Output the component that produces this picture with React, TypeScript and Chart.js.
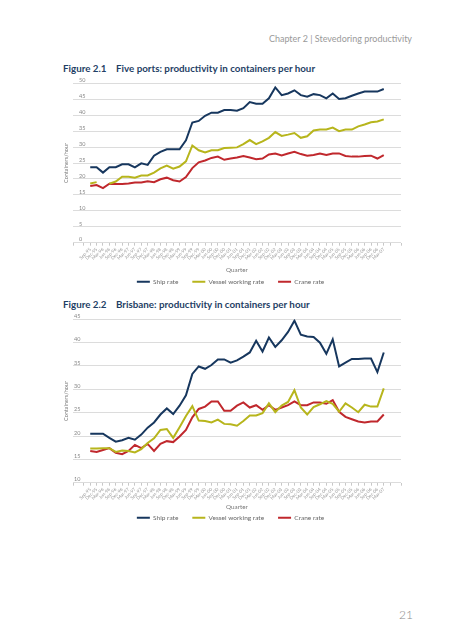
import React, { useEffect, useRef } from 'react';
import { Chart, registerables } from 'chart.js';

Chart.register(...registerables);

// Quarter labels (x axis)
const quarters: string[] = [
  'Sep-95', 'Dec-95', 'Mar-96', 'Jun-96', 'Sep-96', 'Dec-96', 'Mar-97', 'Jun-97',
  'Sep-97', 'Dec-97', 'Mar-98', 'Jun-98', 'Sep-98', 'Dec-98', 'Mar-99', 'Jun-99',
  'Sep-99', 'Dec-99', 'Mar-00', 'Jun-00', 'Sep-00', 'Dec-00', 'Mar-01', 'Jun-01',
  'Sep-01', 'Dec-01', 'Mar-02', 'Jun-02', 'Sep-02', 'Dec-02', 'Mar-03', 'Jun-03',
  'Sep-03', 'Dec-03', 'Mar-04', 'Jun-04', 'Sep-04', 'Dec-04', 'Mar-05', 'Jun-05',
  'Sep-05', 'Dec-05', 'Mar-06', 'Jun-06', 'Sep-06', 'Dec-06', 'Mar-07',
];

// Figure 2.1 — Five ports
const fiveShip: (number | null)[] = [
  23.7, 23.7, 22.0, 23.7, 23.7, 24.6, 24.6, 23.6, 24.9, 24.4,
  27.3, 28.5, 29.3, 29.3, 29.3, 32.1, 37.7, 38.2, 39.8, 40.8,
  40.8, 41.6, 41.6, 41.4, 42.2, 44.1, 43.6, 43.6, 45.3, 48.7,
  46.3, 46.8, 47.8, 46.3, 45.8, 46.6, 46.3, 45.3, 46.8, 45.1,
  45.3, 46.1, 46.8, 47.4, 47.4, 47.4, 48.2,
];
const fiveVessel: (number | null)[] = [
  18.6, 19.0, null, 18.5, 19.2, 20.7, 20.7, 20.4, 21.1, 21.1,
  22.0, 23.3, 24.2, 23.2, 23.9, 25.5, 30.5, 29.0, 28.3, 29.0,
  29.0, 29.7, 29.8, 29.9, 30.9, 32.2, 30.9, 31.8, 32.9, 34.7,
  33.5, 33.9, 34.4, 32.9, 33.4, 35.2, 35.5, 35.5, 36.1, 35.0,
  35.5, 35.5, 36.5, 37.1, 37.8, 38.0, 38.7,
];
const fiveCrane: (number | null)[] = [
  17.8, 18.1, 17.1, 18.5, 18.4, 18.4, 18.6, 18.9, 18.9, 19.3,
  19.0, 19.9, 20.4, 19.6, 19.2, 20.6, 23.4, 25.2, 25.8, 26.6,
  27.0, 26.0, 26.4, 26.7, 27.2, 26.7, 26.2, 26.4, 27.7, 28.0,
  27.4, 28.0, 28.5, 27.8, 27.3, 27.5, 28.0, 27.5, 28.0, 28.0,
  27.2, 27.0, 27.0, 27.2, 27.3, 26.4, 27.5,
];

// Figure 2.2 — Brisbane
const brisShip: (number | null)[] = [
  20.5, 20.5, 20.5, 19.6, 18.8, 19.1, 19.6, 19.2, 20.3, 21.8,
  22.9, 24.6, 25.9, 24.7, 26.5, 28.7, 33.3, 34.9, 34.4, 35.2,
  36.4, 36.4, 35.7, 36.2, 37.0, 37.9, 40.4, 38.1, 41.1, 39.1,
  40.5, 42.3, 44.7, 41.7, 41.3, 41.2, 40.0, 37.6, 40.7, 34.9,
  35.7, 36.5, 36.5, 36.6, 36.6, 33.7, 37.9,
];
const brisVessel: (number | null)[] = [
  17.3, 17.3, 17.4, 17.4, 16.6, 16.9, 16.8, 16.5, 17.2, 18.5,
  19.5, 21.3, 21.5, 19.6, 21.9, 24.3, 26.4, 23.3, 23.2, 22.9,
  23.5, 22.6, 22.5, 22.2, 23.2, 24.4, 24.4, 24.9, 27.0, 25.1,
  26.5, 27.3, 29.8, 26.1, 24.6, 26.2, 26.8, 27.5, 26.9, 25.2,
  27.0, 26.1, 25.1, 26.7, 26.3, 26.3, 30.2,
];
const brisCrane: (number | null)[] = [
  16.8, 16.6, 17.0, 17.4, 16.4, 16.1, 16.8, 18.1, 17.4, 18.3,
  16.8, 18.3, 18.9, 18.7, 19.9, 21.3, 24.0, 25.8, 26.3, 27.4,
  27.4, 25.4, 25.4, 26.5, 27.2, 26.1, 26.6, 25.6, 26.6, 25.6,
  26.1, 26.6, 27.4, 26.6, 26.6, 27.2, 27.2, 26.9, 27.7, 25.2,
  24.1, 23.6, 23.1, 22.9, 23.1, 23.1, 24.6,
];

const seriesNames = ['Ship rate', 'Vessel working rate', 'Crane rate'];
const seriesColors = ['#17375e', '#b7b51c', '#c0282d'];

const FONT = 'Lato, "Open Sans", "DejaVu Sans", sans-serif';

type BlockProps = {
  canvasTop: number;
  canvasH: number;
  padTop: number;
  padBottom: number;
  yMin: number;
  yMax: number;
  series: (number | null)[][];
  yTickPad: number;
  xBoxH: number;
  quarterPad: number;
};

function ChartBlock(p: BlockProps) {
  const ref = useRef<HTMLCanvasElement | null>(null);
  useEffect(() => {
    if (!ref.current) return;
    const chart = new Chart(ref.current, {
      type: 'line',
      data: {
        datasets: p.series.map((s, k) => ({
          label: seriesNames[k],
          data: s.map((v, i) => ({ x: i, y: v })),
          borderColor: seriesColors[k],
          backgroundColor: seriesColors[k],
          borderWidth: 2,
          pointRadius: 0,
          tension: 0,
          spanGaps: false,
        })),
      },
      options: {
        animation: false,
        responsive: false,
        events: [],
        layout: { padding: { left: 60, right: 49, top: p.padTop, bottom: p.padBottom } },
        plugins: {
          tooltip: { enabled: false },
          legend: {
            position: 'bottom',
            labels: {
              usePointStyle: true,
              pointStyle: 'line',
              pointStyleWidth: 13,
              boxHeight: 6.5,
              padding: 14,
              color: '#666',
              font: { family: FONT, size: 6.5 },
            },
          },
        },
        scales: {
          x: {
            type: 'linear',
            min: -2.7,
            max: 48.7,
            grid: { drawOnChartArea: false, drawTicks: true, tickLength: 3, color: '#c8c8c8' },
            border: { display: false },
            ticks: {
              stepSize: 1,
              autoSkip: false,
              minRotation: 45,
              maxRotation: 45,
              padding: 1,
              color: '#999',
              font: { family: FONT, size: 4.5 },
              callback: (v: any) => {
                const n = Number(v);
                return Number.isInteger(n) && n >= 0 && n < quarters.length ? quarters[n] : '';
              },
            },
            title: {
              display: true,
              text: 'Quarter',
              color: '#777',
              font: { family: FONT, size: 6.3 },
              padding: { top: 0, bottom: p.quarterPad },
            },
            afterFit: (s: any) => { s.height = p.xBoxH; },
          },
          y: {
            min: p.yMin,
            max: p.yMax,
            grid: { color: '#dcdcdc', lineWidth: 1, drawTicks: false },
            border: { display: false },
            ticks: {
              stepSize: 5,
              mirror: true,
              padding: p.yTickPad,
              labelOffset: -3,
              color: '#888',
              font: { family: FONT, size: 5.5 },
            },
            title: {
              display: true,
              text: 'Containers/hour',
              color: '#777',
              font: { family: FONT, size: 5.5 },
              padding: { top: 3, bottom: 0 },
            },
            afterFit: (s: any) => { s.width = 13; },
          },
        },
      } as any,
    });
    return () => chart.destroy();
  }, []);
  return (
    <canvas
      ref={ref}
      width={450}
      height={p.canvasH}
      style={{ position: 'absolute', left: 0, top: p.canvasTop, width: 450, height: p.canvasH }}
    />
  );
}

const textBase: React.CSSProperties = { position: 'absolute', whiteSpace: 'nowrap', fontFamily: FONT };
const titleStyle: React.CSSProperties = { ...textBase, fontSize: 9.8, lineHeight: '12px', fontWeight: 700, color: '#1f3f66' };

export default function App() {
  return (
    <div style={{ position: 'absolute', left: 0, top: 0, width: 450, height: 640, background: '#fff', overflow: 'hidden' }}>
      <div style={{ ...textBase, right: 38, top: 32.5, fontSize: 9, lineHeight: '11px', color: '#9a9a9a' }}>
        Chapter 2 | Stevedoring productivity
      </div>

      <div style={{ ...titleStyle, left: 63, top: 62 }}>Figure 2.1</div>
      <div style={{ ...titleStyle, left: 116, top: 62 }}>Five ports: productivity in containers per hour</div>
      <ChartBlock
        canvasTop={72}
        canvasH={225}
        padTop={11.3}
        padBottom={2.05}
        yMin={0}
        yMax={50}
        series={[fiveShip, fiveVessel, fiveCrane]}
        yTickPad={6}
        xBoxH={21.75}
        quarterPad={-9.3}
      />

      <div style={{ ...titleStyle, left: 63, top: 298 }}>Figure 2.2</div>
      <div style={{ ...titleStyle, left: 116, top: 298 }}>Brisbane: productivity in containers per hour</div>
      <ChartBlock
        canvasTop={308}
        canvasH={225}
        padTop={11.3}
        padBottom={2.05}
        yMin={10}
        yMax={45}
        series={[brisShip, brisVessel, brisCrane]}
        yTickPad={1}
        xBoxH={17.75}
        quarterPad={-10}
      />

      <div style={{ ...textBase, left: 399, top: 608, fontSize: 12, lineHeight: '14px', color: '#8a8a8a', fontWeight: 300 }}>
        21
      </div>
    </div>
  );
}
